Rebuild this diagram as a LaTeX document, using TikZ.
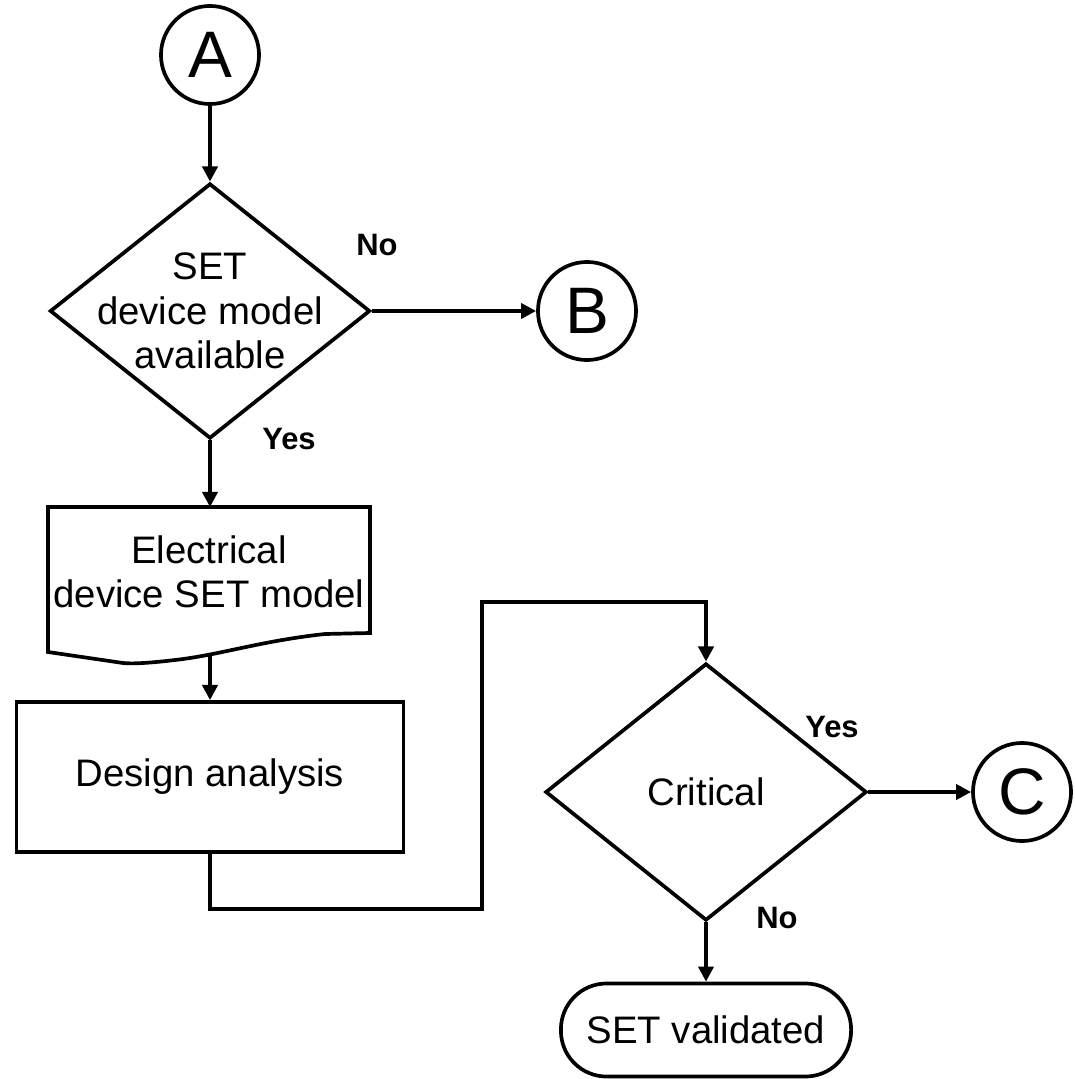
\documentclass[tikz,border=0pt]{standalone}
\usepackage{fontspec}
\setmainfont{Liberation Sans}
\usetikzlibrary{arrows.meta, shapes.geometric}

\begin{document}
\begin{tikzpicture}[x=0.01cm, y=-0.01cm, line width=1.05pt,
	flow/.style={-{Triangle[length=4.3pt, width=4.3pt]}},
	conn/.style={draw, circle, minimum size=0.98cm, inner sep=0pt, font=\fontsize{18.7}{20}\selectfont},
	decide/.style={draw, diamond, inner sep=0pt},
	txt/.style={align=center, font=\fontsize{10.9}{12.6}\selectfont},
	answer/.style={font=\fontsize{8.8}{10}\selectfont\bfseries},
	procbox/.style={draw, rectangle, minimum width=3.87cm, minimum height=1.5cm, txt},
	termbox/.style={draw, rectangle, rounded corners=13pt, minimum width=2.9cm, minimum height=0.93cm, txt}]
			\useasboundingbox (0,0) rectangle (1075,1079);
			
			\node [conn] (A) at (210,55) {A};
			\node [conn] (B) at (587,311) {B};
			\node [conn] (C) at (1022,792) {C};
			
			\node [decide, minimum width=3.2cm, minimum height=2.55cm] (avail) at (210,311) {};
			\node [txt] (availtxt) at (avail) {SET\\device model\\available};
			
			\draw (48,507) -- (370,507) -- (370,633) -- (325,634) .. controls (260,641) and (220,655) .. (175,660) .. controls (150,663) and (132,664) .. (123,663) -- (48,652) -- cycle;
			\coordinate (elect) at (210,507);
			\coordinate (elecb) at (210,656);
			\node [txt] (elec) at (209,572) {Electrical\\device SET model};
			
			\node [procbox] (design) at (210,777) {Design analysis};
			
			\node [decide, minimum width=3.21cm, minimum height=2.57cm] (crit) at (706,792) {};
			\node [txt] (crittxt) at (crit) {Critical};
			
			\node [termbox] (valid) at (706,1030) {SET validated};
			
			\draw [flow] (A.south) -- (avail.north);
			\draw [flow] (avail.east) -- (B.west);
			\draw [flow] (avail.south) -- (elect);
			\draw [flow] (elecb) -- (design.north);
			\draw [flow] (design.south) -- ++(0,55) -| ++(272,-307) -| (crit.north);
			\draw [flow] (crit.east) -- (C.west);
			\draw [flow] (crit.south) -- (valid.north);
			
			\node [answer] (no1) at (377,245) {No};
			\node [answer] (yes1) at (289,439) {Yes};
			\node [answer] (yes2) at (832,727) {Yes};
			\node [answer] (no2) at (777,918) {No};
			
		\end{tikzpicture}
\end{document}
